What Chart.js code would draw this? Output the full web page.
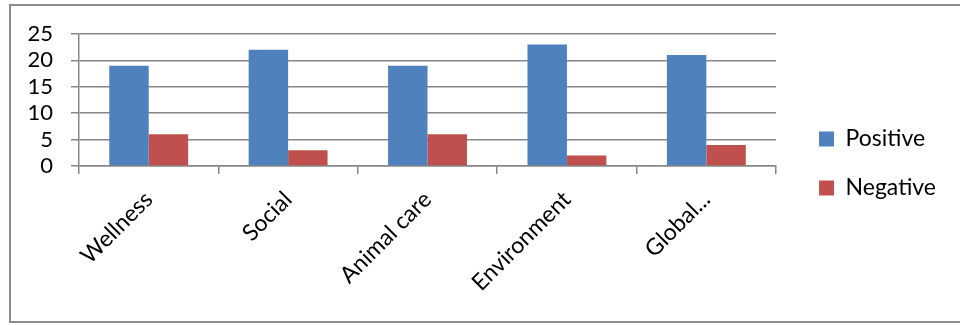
<!DOCTYPE html>
<html>
<head>
<meta charset="utf-8">
<script src="https://cdn.jsdelivr.net/npm/chart.js@4.4.1/dist/chart.umd.min.js"></script>
<style>
  html, body { margin: 0; padding: 0; background: #ffffff; }
  #wrap { width: 960px; height: 325px; position: relative; }
</style>
</head>
<body>
<div id="wrap"><canvas id="c" width="960" height="325"></canvas></div>
<script>
// Survey answers per theme
const categories = ['Wellness', 'Social', 'Animal care', 'Environment', 'Global...'];
const positive = [19, 22, 19, 23, 21];
const negative = [6, 3, 6, 2, 4];
const yMin = 0;
const yMax = 25;
const yStep = 5;

const AXIS_GREY = '#878787';
const FONT = 'Lato, "DejaVu Sans", sans-serif';

// Thin grey frame around the whole chart
const framePlugin = {
  id: 'frame',
  beforeDraw(chart) {
    const ctx = chart.ctx;
    ctx.save();
    ctx.fillStyle = '#ffffff';
    ctx.fillRect(0, 0, chart.width, chart.height);
    ctx.restore();
  },
  afterDraw(chart) {
    const ctx = chart.ctx;
    ctx.save();
    ctx.strokeStyle = '#8c8c8c';
    ctx.lineWidth = 2;
    ctx.strokeRect(10, 5, chart.width + 20, chart.height - 8);
    ctx.restore();
  }
};

// Nudge the legend a little further away from the plot
const legendNudge = {
  id: 'legendNudge',
  afterLayout(chart) {
    const lg = chart.legend;
    if (!lg) return;
    lg.left += 17;
    lg.right += 17;
  }
};

new Chart(document.getElementById('c'), {
  type: 'bar',
  data: {
    labels: categories,
    datasets: [
      { label: 'Positive', data: positive, backgroundColor: '#4F81BD', borderWidth: 0,
        categoryPercentage: 0.566, barPercentage: 1.0 },
      { label: 'Negative', data: negative, backgroundColor: '#C0504D', borderWidth: 0,
        categoryPercentage: 0.566, barPercentage: 1.0 }
    ]
  },
  options: {
    responsive: false,
    devicePixelRatio: 1,
    animation: false,
    layout: { padding: { left: 0, top: 34, right: 31, bottom: 32 } },
    plugins: {
      tooltip: { enabled: false },
      legend: {
        position: 'right',
        labels: {
          font: { family: FONT, size: 23 },
          color: '#000000',
          boxWidth: 15,
          boxHeight: 15,
          padding: 26
        }
      }
    },
    scales: {
      x: {
        afterFit(scale) { scale.height = 127; },
        grid: { drawOnChartArea: false, drawTicks: true, tickLength: 8, color: AXIS_GREY, lineWidth: 1.5 },
        border: { display: true, color: AXIS_GREY, width: 1.5 },
        ticks: {
          autoSkip: false,
          maxRotation: 45,
          minRotation: 45,
          padding: 12,
          color: '#000000',
          font: { family: FONT, size: 23 }
        }
      },
      y: {
        min: yMin,
        max: yMax,
        afterFit(scale) { scale.width = 79; },
        grid: { drawTicks: true, tickLength: 8, color: AXIS_GREY, lineWidth: 1.5 },
        border: { display: true, color: AXIS_GREY, width: 1.5 },
        ticks: {
          stepSize: yStep,
          autoSkip: false,
          padding: 18,
          color: '#000000',
          font: { family: FONT, size: 22 }
        }
      }
    }
  },
  plugins: [framePlugin, legendNudge]
});
</script>
</body>
</html>
